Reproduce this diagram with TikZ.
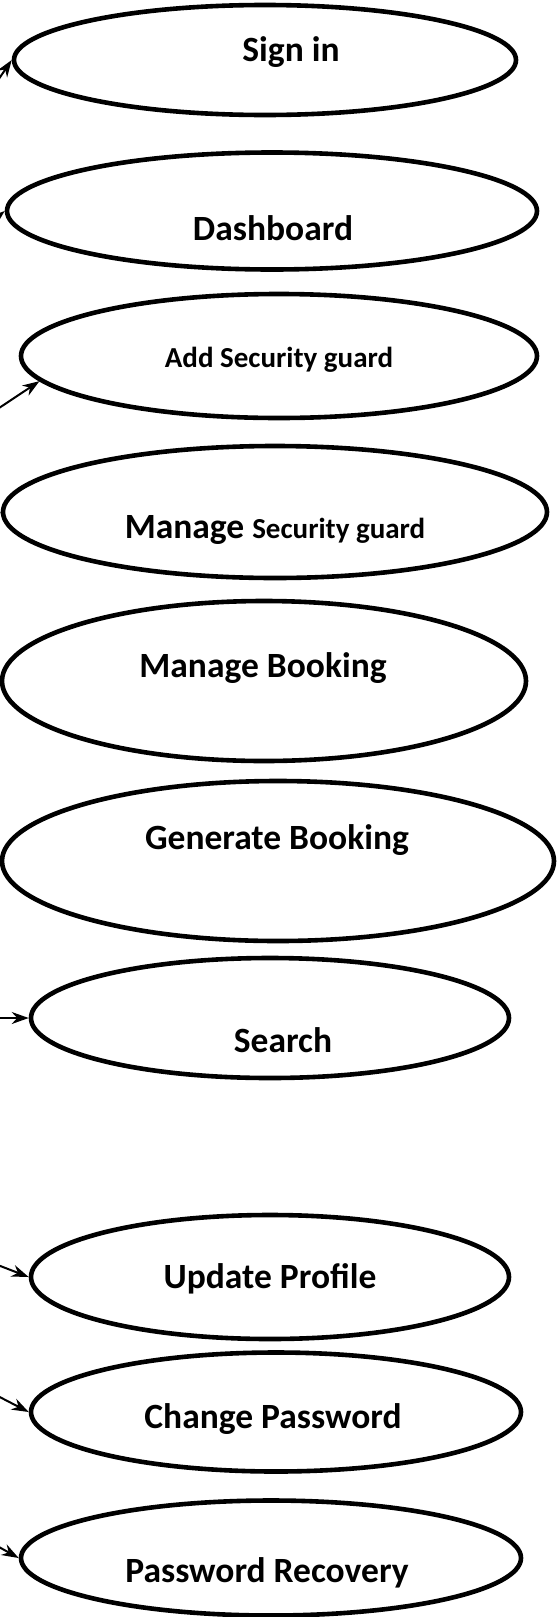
\documentclass[tikz,border=0pt]{standalone}
\usepackage{fontspec}
\setmainfont{Carlito}
\usetikzlibrary{shapes.geometric,arrows.meta}
\tikzset{
  uc/.style 2 args={ellipse, draw=black, line width=4.6pt, minimum width=#1pt, minimum height=#2pt, inner sep=0pt, fill=white},
  big/.style={font=\fontsize{35.5}{40}\selectfont\bfseries, inner sep=0pt},
  small/.style={font=\fontsize{29}{33}\selectfont\bfseries, inner sep=0pt},
  arr/.style={draw=black, line width=2pt, -{Stealth[length=17pt,width=12pt]}}
}
\begin{document}
\begin{tikzpicture}[x=1pt,y=-1pt]
\useasboundingbox (0,0) rectangle (557,1617);
% use cases
\node[uc={502}{110}] (sign) at (265,60) {};
\node[uc={530}{117}] (dash) at (272,211) {};
\node[uc={516}{124}] (add) at (279,356) {};
\node[uc={544}{132}] (msg) at (275,512) {};
\node[uc={524}{160}] (mb) at (264,681) {};
\node[uc={552}{160}] (gb) at (278,861) {};
\node[uc={478}{120}] (search) at (270,1018) {};
\node[uc={478}{124}] (up) at (270,1277) {};
\node[uc={490}{119}] (cp) at (276,1412) {};
\node[uc={500}{115}] (pr) at (271,1558) {};
% labels
\node[big] (tsign) at (291,52) {Sign in};
\node[big] (tdash) at (273,228) {Dashboard};
\node[small] (tadd) at (279,360) {Add Security guard};
\node[big] (tmsg) at (275,530) {Manage \fontsize{29}{33}\selectfont Security guard};
\node[big] (tmb) at (263,668) {Manage Booking};
\node[big] (tgb) at (277,840) {Generate Booking};
\node[big] (tsearch) at (283,1040) {Search};
\node[big] (tup) at (270,1279) {Update Profile};
\node[big] (tcp) at (273,1419) {Change Password};
\node[big] (tpr) at (267,1573) {Password Recovery};
% actor-side ends
\coordinate (a1) at (-10,92);
\coordinate (a2) at (-12,225);
\coordinate (a3) at (-10,414);
\coordinate (a4) at (-12,528);
\coordinate (a5) at (-10,1018);
\coordinate (a6) at (-10,1262);
\coordinate (a7) at (-10,1392);
\coordinate (a8) at (-10,1542);
\draw[arr] (a1) -- (sign.west);
\draw[arr] (a2) -- (dash.west);
\draw[arr] (a3) -- (add.186);
\draw[arr] (a4) -- (msg.west);
\draw[arr] (a5) -- (search.west);
\draw[arr] (a6) -- (up.west);
\draw[arr] (a7) -- (cp.west);
\draw[arr] (a8) -- (pr.west);
\end{tikzpicture}
\end{document}
